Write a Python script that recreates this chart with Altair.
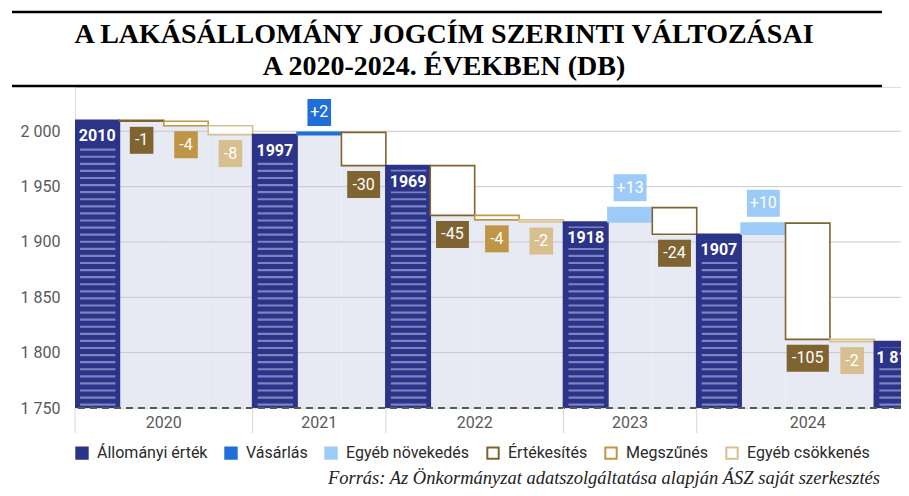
import altair as alt
import pandas as pd

# ---------------- data ----------------
kinds = ["Állományi érték", "Értékesítés", "Megszűnés", "Egyéb csökkenés",
         "Állományi érték", "Vásárlás", "Értékesítés",
         "Állományi érték", "Értékesítés", "Megszűnés", "Egyéb csökkenés",
         "Állományi érték", "Egyéb növekedés", "Értékesítés",
         "Állományi érték", "Egyéb növekedés", "Értékesítés", "Egyéb csökkenés",
         "Állományi érték"]
values = [2010, -1, -4, -8,
          1997, 2, -30,
          1969, -45, -4, -2,
          1918, 13, -24,
          1907, 10, -105, -2,
          1810]
years = ["2020", "2020", "2020", "2020",
         "2021", "2021", "2021",
         "2022", "2022", "2022", "2022",
         "2023", "2023", "2023",
         "2024", "2024", "2024", "2024", "2024"]
stock_texts = ["2010", "1997", "1969", "1918", "1907", "1 810"]

legend_order = ["Állományi érték", "Vásárlás", "Egyéb növekedés",
                "Értékesítés", "Megszűnés", "Egyéb csökkenés"]
fill_colors = ["#2b3488", "#1f6fd8", "#9dcbf8", "#ffffff", "#ffffff", "#ffffff"]
stroke_colors = ["#2b3488", "#1f6fd8", "#9dcbf8", "#7f6431", "#bf9646", "#d8bf8f"]
box_colors = ["#2b3488", "#1f6fd8", "#9dcbf8", "#7f6431", "#bf9646", "#d8bf8f"]

y_ticks = [1750, 1800, 1850, 1900, 1950, 2000]
title_lines = ["A LAKÁSÁLLOMÁNY JOGCÍM SZERINTI VÁLTOZÁSAI", "A 2020-2024. ÉVEKBEN (DB)"]
source_text = "Forrás: Az Önkormányzat adatszolgáltatása alapján ÁSZ saját szerkesztés"

# ---------------- layout constants ----------------
W, H = 826, 321
Y_MIN, Y_MAX = 1750, 2040
X_MIN, X_MAX = -0.5, 18.1
PX_X = W / (X_MAX - X_MIN)
PX_Y = H / (Y_MAX - Y_MIN)

# ---------------- derived table ----------------
rows = []
total = None
si = 0
for i, (k, v, yr) in enumerate(zip(kinds, values, years)):
    if k == "Állományi érték":
        lo, hi = Y_MIN, v
        total = v
        label = stock_texts[si]
        si += 1
        ly = hi - 16 / PX_Y
        wpx, hpx = 9.2 * len(label.replace(" ", "")) + 4, 20
        stock = True
    else:
        start, end = total, total + v
        lo, hi = min(start, end), max(start, end)
        total = end
        label = f"{v:+d}"
        if v < 0:
            ly = lo - 19 / PX_Y
        else:
            ly = hi + 20 / PX_Y
        wpx, hpx = 9.3 * len(label) + 5, 27
        stock = False
    rows.append(dict(
        slot=i, kind=k, year=yr, lo=lo, hi=hi, base=Y_MIN, stock=stock,
        x0=i - 0.5, x1=i + 0.5, sx0=i - 0.5 + 5 / PX_X, sx1=i + 0.5 - 4 / PX_X,
        label=label, ly=ly,
        bx0=i - wpx / 2 / PX_X, bx1=i + wpx / 2 / PX_X,
        by0=ly - hpx / 2 / PX_Y, by1=ly + hpx / 2 / PX_Y,
    ))
df = pd.DataFrame(rows)
changes = df[~df["stock"]]
stocks = df[df["stock"]]

yr_df = df.groupby("year").agg(left=("slot", "min"), center=("slot", "mean")).reset_index()
yr_df["left"] = yr_df["left"] - 0.5

grid_df = pd.DataFrame({"g": y_ticks[1:]})
base_df = pd.DataFrame({"b": [Y_MIN]})
one = pd.DataFrame({"a": [0]})

xs = alt.Scale(domain=[X_MIN, X_MAX], nice=False, zero=False)
ys = alt.Scale(domain=[Y_MIN, Y_MAX], nice=False, zero=False)
FONT = "Roboto"

def X(f):
    return alt.X(f, scale=xs, axis=None)

def Y(f):
    return alt.Y(f, scale=ys, axis=None)

# lavender base
base_layer = alt.Chart(changes).mark_rect(color="#e7e9f3", clip=True).encode(
    x=X("x0:Q"), x2="x1:Q", y=Y("base:Q"), y2="lo:Q")

# gridlines + y axis labels
grid_layer = alt.Chart(grid_df).mark_rule(color="#c9c9c9", strokeWidth=1).encode(
    y=alt.Y("g:Q", scale=ys, axis=alt.Axis(
        values=y_ticks, grid=False, domain=False, ticks=False, title=None,
        labelFont=FONT, labelFontSize=16, labelColor="#595959", labelPadding=15,
        labelExpr="replace(format(datum.value, ','), ',', ' ')")))

leg = dict(title=None, orient="none", legendX=-1, legendY=358, direction="horizontal",
           columns=6, symbolType="square", symbolSize=130, symbolStrokeWidth=2,
           labelFont=FONT, labelFontSize=16, labelColor="#2a2a2a", labelOffset=7,
           columnPadding=13, padding=0)

bars = alt.Chart(df).mark_rect(strokeWidth=1.6, clip=True).encode(
    x=X("x0:Q"), x2="x1:Q", y=Y("lo:Q"), y2="hi:Q",
    fill=alt.Fill("kind:N", scale=alt.Scale(domain=legend_order, range=fill_colors),
                  legend=alt.Legend(**leg)),
    stroke=alt.Stroke("kind:N", scale=alt.Scale(domain=legend_order, range=stroke_colors),
                      legend=alt.Legend(**leg)))

stripes = alt.Chart(stocks).transform_calculate(
    stripe="sequence(1753, datum.hi - 2, 6.4)"
).transform_flatten(["stripe"]).mark_rule(
    color="#7d85be", strokeWidth=2.2, clip=True).encode(
    x=X("sx0:Q"), x2="sx1:Q", y=Y("stripe:Q"))

baseline = alt.Chart(base_df).mark_rule(
    color="#595959", strokeWidth=2, strokeDash=[7, 5]).encode(y=Y("b:Q"))

boxes = alt.Chart(df).mark_rect().encode(
    x=X("bx0:Q"), x2="bx1:Q", y=Y("by0:Q"), y2="by1:Q",
    color=alt.Color("kind:N", scale=alt.Scale(domain=legend_order, range=box_colors),
                    legend=None))

chg_text = alt.Chart(changes).mark_text(
    font=FONT, fontSize=16, color="white", baseline="middle", align="center").encode(
    x=X("slot:Q"), y=Y("ly:Q"), text="label:N")

stk_text = alt.Chart(stocks).mark_text(
    font=FONT, fontSize=16, fontWeight="bold", color="white", baseline="middle",
    align="center").encode(x=X("slot:Q"), y=Y("ly:Q"), text="label:N")

dividers = alt.Chart(yr_df).mark_rule(color="#d6d6d6", strokeWidth=1).encode(
    x=X("left:Q"), y=alt.value(H), y2=alt.value(H + 25))

year_text = alt.Chart(yr_df).mark_text(
    font=FONT, fontSize=16, color="#595959", baseline="middle", align="center").encode(
    x=X("center:Q"), y=alt.value(H + 15), text="year:N")

title_df = pd.DataFrame({"t": title_lines, "row": [0, 1]})
title = alt.Chart(title_df).mark_text(
    font="Liberation Serif", fontSize=28, fontWeight="bold", color="#000000",
    align="center", baseline="alphabetic").encode(
    x=alt.value(369), y=alt.Y("row:Q", scale=alt.Scale(domain=[0, 1], range=[-44, -12]), axis=None),
    text="t:N")

rule_top = alt.Chart(one).mark_rule(color="#000000", strokeWidth=2.5).encode(
    x=alt.value(-63), x2=alt.value(807), y=alt.value(-75))
rule_bot = alt.Chart(one).mark_rule(color="#000000", strokeWidth=2.5).encode(
    x=alt.value(-63), x2=alt.value(807), y=alt.value(-1))

src = alt.Chart(pd.DataFrame({"s": [source_text]})).mark_text(
    font="Liberation Serif", fontSize=18.5, fontStyle="italic", color="#222222",
    align="right", baseline="alphabetic").encode(
    x=alt.value(805), y=alt.value(397), text="s:N")

chart = alt.layer(
    base_layer, grid_layer, bars, stripes, baseline, boxes, chg_text, stk_text,
    dividers, year_text, title, rule_top, rule_bot, src
).resolve_scale(y="independent").properties(
    width=W, height=H,
    padding={"left": 67, "top": 79, "right": 0, "bottom": 80},
    autosize=alt.AutoSizeParams(type="none"),
).configure_view(stroke=None).configure(background="white")

chart.save("out.html", embed_options={"renderer": "svg", "actions": False})
